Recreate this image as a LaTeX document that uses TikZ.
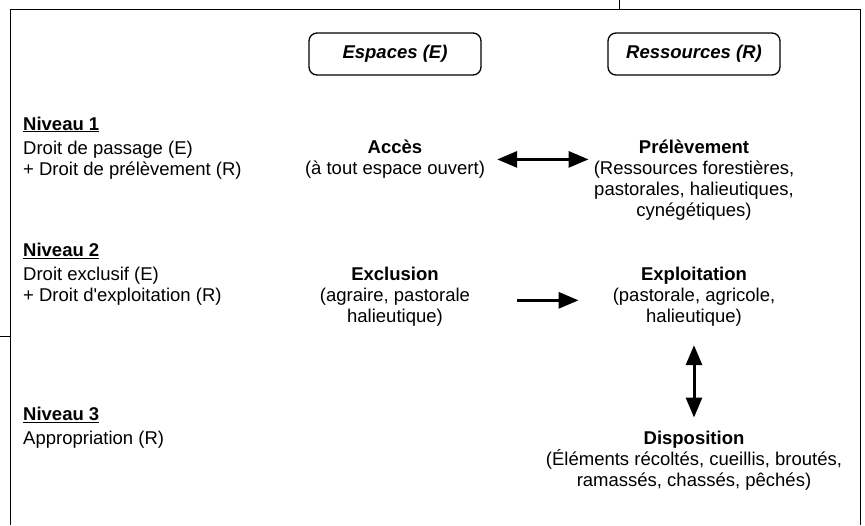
\documentclass[tikz,border=0pt]{standalone}
\usepackage{fontspec}
\setmainfont{Liberation Sans}
\usetikzlibrary{arrows.meta, positioning, calc}

\tikzset{
  txt/.style={font=\fontsize{18.5}{21}\selectfont, inner sep=3pt},
  head/.style={txt, draw, line width=1.3pt, rounded corners=8pt,
    minimum width=172pt, minimum height=42pt, font=\fontsize{18.5}{21}\selectfont\bfseries\itshape},
  lvl/.style={txt, align=left, anchor=north west},
  blk/.style={txt, align=center, anchor=north},
  arr/.style={line width=3pt, -{Triangle[length=20pt, width=16pt]}},
  dbl/.style={line width=3pt, {Triangle[length=20pt, width=16pt]}-{Triangle[length=20pt, width=16pt]}},
}

\begin{document}
\begin{tikzpicture}[x=1pt, y=-1pt]
  \useasboundingbox (0,0) rectangle (865,525);
  % --- frame ---
  \draw[line width=1pt] (10,525) -- (10,9) -- (860,9) -- (860,525);
  \draw[line width=1pt] (619,0) -- (619,9);
  \draw[line width=1pt] (0,336) -- (10,336);
  % --- column heads ---
  \node[head] (espaces) at (395,54) {Espaces (E)};
  \node[head] (ressources) at (694,54) {Ressources (R)};
  % --- levels ---
  \node[lvl] (niv1) at (20,113.5) {\underline{\textbf{Niveau 1}}\\[3pt]Droit de passage (E)\\+ Droit de prélèvement (R)};
  \node[lvl] (niv2) at (20,240) {\underline{\textbf{Niveau 2}}\\[3pt]Droit exclusif (E)\\+ Droit d\textquotesingle exploitation (R)};
  \node[lvl] (niv3) at (20,404) {\underline{\textbf{Niveau 3}}\\[3pt]Appropriation (R)};
  % --- spaces ---
  \node[blk] (acces) at (395,137) {\textbf{Accès}\\(à tout espace ouvert)};
  \node[blk] (exclusion) at (395,263.5) {\textbf{Exclusion}\\(agraire, pastorale\\halieutique)};
  % --- resources ---
  \node[blk] (prelevement) at (694,137) {\textbf{Prélèvement}\\(Ressources forestières,\\pastorales, halieutiques,\\cynégétiques)};
  \node[blk] (exploitation) at (694,263.5) {\textbf{Exploitation}\\(pastorale, agricole,\\halieutique)};
  \node[blk] (disposition) at (694,427.5) {\textbf{Disposition}\\(Éléments récoltés, cueillis, broutés,\\ramassés, chassés, pêchés)};
  % --- links ---
  \draw[dbl, shorten <=9pt, shorten >=2pt] (acces.east) -- (acces.east -| prelevement.west);
  \draw[arr, shorten <=44pt, shorten >=31pt] ([yshift=-4pt]exclusion.east) -- ([yshift=-4pt]exclusion.east -| exploitation.west);
  \draw[dbl, shorten <=16pt, shorten >=10pt] (exploitation.south) -- (disposition.north);
\end{tikzpicture}
\end{document}
